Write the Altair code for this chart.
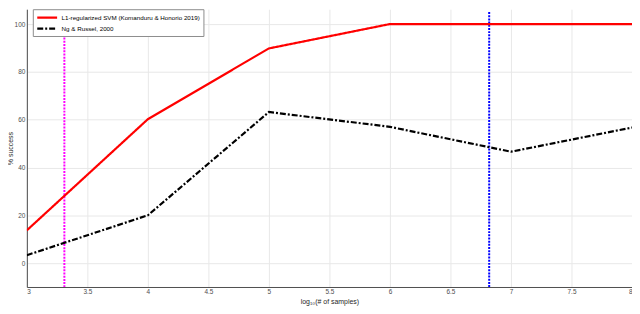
import altair as alt
import pandas as pd

x_vals = [3, 4, 5, 6, 7, 8]
svm_vals = [13.7, 60.2, 89.8, 100, 100, 100]
ng_vals = [3.3, 20, 63.2, 57, 46.6, 56.7]
series_names = ["L1-regularized SVM (Komanduru & Honorio 2019)", "Ng & Russel, 2000"]
series_colors = ["#ff0000", "#000000"]

vline_x = [3.31, 6.82]
vline_top = [98.3, 105]
vline_bottom = [-10, -10]
vline_colors = ["#ff00ff", "#0000ff"]

x_ticks = [3, 3.5, 4, 4.5, 5, 5.5, 6, 6.5, 7, 7.5, 8]
y_ticks = [0, 20, 40, 60, 80, 100]

rows = []
for name, vals in zip(series_names, [svm_vals, ng_vals]):
    for x, v in zip(x_vals, vals):
        rows.append({"x": x, "y": v, "series": name})
df = pd.DataFrame(rows)

vdf = pd.DataFrame({"x": vline_x, "top": vline_top, "bottom": vline_bottom,
                    "col": vline_colors})

xscale = alt.Scale(domain=[3, 8], nice=False, zero=False)
yscale = alt.Scale(domain=[-10, 106.2], nice=False, zero=False)

leg = dict(title=None, orient="none", legendX=6, legendY=0,
           symbolType="M-1,0H4", symbolSize=64, symbolOffset=0,
           symbolFillColor="transparent",
           symbolStrokeWidth=2.2, labelFontSize=6.3, labelOffset=15,
           labelColor="#000000", padding=3, rowPadding=1,
           strokeColor="#8c8c8c", fillColor="#ffffff", labelLimit=400)

lines = alt.Chart(df).mark_line(strokeWidth=2.2, clip=True).encode(
    x=alt.X("x:Q", scale=xscale,
            axis=alt.Axis(values=x_ticks, title="log₁₀(# of samples)", format="~g")),
    y=alt.Y("y:Q", scale=yscale,
            axis=alt.Axis(values=y_ticks, title="% success", titleX=-13)),
    color=alt.Color("series:N", sort=series_names,
                    scale=alt.Scale(domain=series_names, range=series_colors),
                    legend=alt.Legend(**leg)),
    strokeDash=alt.StrokeDash("series:N", sort=series_names,
                              scale=alt.Scale(domain=series_names,
                                              range=[[1, 0], [6, 2, 2, 2]]),
                              legend=alt.Legend(**leg)),
)

rules = alt.Chart(vdf).mark_rule(strokeWidth=2, strokeDash=[2, 1.2]).encode(
    x=alt.X("x:Q", scale=xscale),
    y=alt.Y("top:Q", scale=yscale),
    y2="bottom:Q",
    stroke=alt.Stroke("col:N", scale=None, legend=None),
)

chart = alt.layer(rules, lines).properties(
    width=610, height=280,
    autosize=alt.AutoSizeParams(type="none"),
    padding={"left": 19, "top": 0, "right": 0, "bottom": 26},
).configure(font="Liberation Sans").configure_view(stroke=None).configure_axis(
    labelFontSize=6.5, labelColor="#4d4d4d", titleFontSize=7, titleColor="#262626",
    titleFontWeight="normal", domainColor="#4d4d4d", gridColor="#e8e8e8",
    ticks=False, labelPadding=2, titlePadding=2,
)

chart.save("out.html", embed_options={"renderer": "svg", "actions": False})
